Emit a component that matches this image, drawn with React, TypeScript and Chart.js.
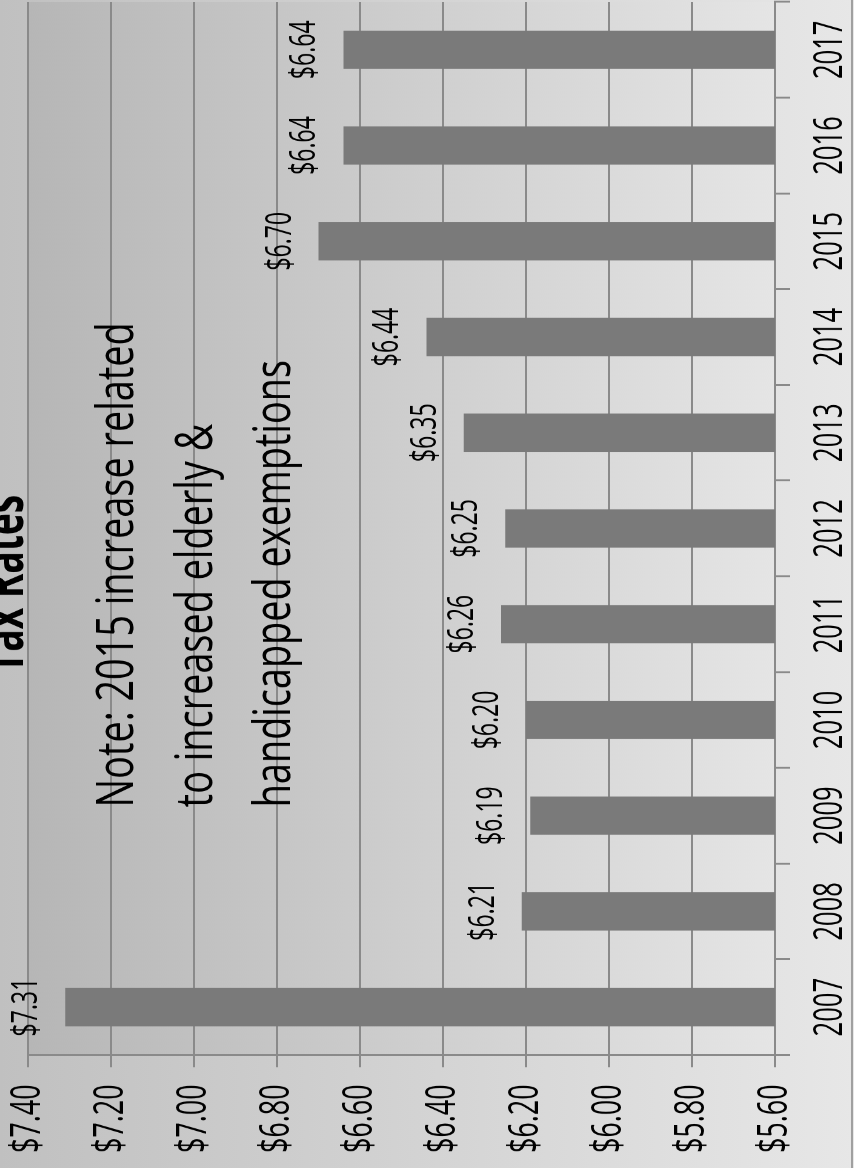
import React, { useEffect, useRef } from "react";
import { Chart, registerables } from "chart.js";

Chart.register(...registerables);

// ---- data ----
const years = ["2007", "2008", "2009", "2010", "2011", "2012", "2013", "2014", "2015", "2016", "2017"];
const taxRates = [7.31, 6.21, 6.19, 6.2, 6.26, 6.25, 6.35, 6.44, 6.7, 6.64, 6.64];
const valueTicks = [5.6, 5.8, 6.0, 6.2, 6.4, 6.6, 6.8, 7.0, 7.2, 7.4];
const titleText = "Tax Rates";
const noteLines = ["Note: 2015 increase related", "to increased elderly &", "handicapped exemptions"];

// ---- layout (the chart is drawn upright, then turned a quarter turn) ----
const K = 0.64; // horizontal squeeze of the upright chart
const VIEW_W = 854;
const VIEW_H = 1168;
const TOP_CROP = 40;
const CW = Math.round(VIEW_H / K);
const CH = VIEW_W + TOP_CROP;
const FONT = "'Open Sans', Lato, sans-serif";
const NOTE_WIDTH = 485 / K;

const money = (v: number) => "$" + Number(v).toFixed(2);

const decorPlugin = {
  id: "decor",
  beforeDraw(chart: any) {
    const { ctx, chartArea } = chart;
    ctx.save();
    const g = ctx.createLinearGradient(0, chartArea.top, 0, chartArea.bottom);
    g.addColorStop(0, "#b6b6b6");
    g.addColorStop(1, "#e5e5e5");
    ctx.fillStyle = g;
    ctx.fillRect(chartArea.left, chartArea.top, chartArea.right - chartArea.left, chartArea.bottom - chartArea.top);
    ctx.restore();
  },
  afterDatasetsDraw(chart: any) {
    const { ctx, chartArea } = chart;
    const meta = chart.getDatasetMeta(0);
    ctx.save();
    ctx.fillStyle = "#000";
    ctx.textAlign = "center";
    ctx.textBaseline = "alphabetic";
    ctx.font = `36px ${FONT}`;
    meta.data.forEach((bar: any, i: number) => {
      ctx.fillText(money(taxRates[i]), bar.x, bar.y - 28);
    });
    // note
    ctx.textAlign = "left";
    ctx.font = `52px ${FONT}`;
    const sx = NOTE_WIDTH / ctx.measureText(noteLines[0]).width;
    const noteLeft = chartArea.left + 387;
    const baseOffsets = [105, 184, 262];
    noteLines.forEach((line, i) => {
      ctx.save();
      ctx.translate(noteLeft, chartArea.top + baseOffsets[i]);
      ctx.scale(sx, 1);
      ctx.fillText(line, 0, 0);
      ctx.restore();
    });
    // title (mostly cropped, as in the source)
    ctx.textAlign = "center";
    ctx.font = `bold 58px ${FONT}`;
    ctx.fillText(titleText, chart.width / 2, chartArea.top - 5);
    ctx.restore();
  },
};

export default function App() {
  const ref = useRef<HTMLCanvasElement | null>(null);
  useEffect(() => {
    if (!ref.current) return;
    const chart = new Chart(ref.current, {
      type: "bar",
      data: {
        labels: years,
        datasets: [
          {
            data: taxRates,
            backgroundColor: "#7a7a7a",
            barPercentage: 0.4,
            categoryPercentage: 1.0,
          },
        ],
      },
      options: {
        responsive: false,
        animation: false,
        devicePixelRatio: 1,
        layout: { padding: { top: TOP_CROP + 28, right: 3, left: 0, bottom: 0 } },
        plugins: { legend: { display: false }, tooltip: { enabled: false }, title: { display: false } },
        scales: {
          x: {
            offset: true,
            grid: {
              offset: true,
              drawOnChartArea: false,
              drawTicks: true,
              tickLength: 15,
              lineWidth: 3,
              color: "#8a8a8a",
            },
            border: { display: true, color: "#8a8a8a", width: 2 },
            ticks: {
              color: "#000",
              font: { family: FONT, size: 40 },
              padding: 17,
              maxRotation: 0,
              minRotation: 0,
              autoSkip: false,
            },
            afterFit: (s: any) => {
              s.height = 79;
            },
          },
          y: {
            min: 5.6,
            max: 7.4,
            afterBuildTicks: (s: any) => {
              s.ticks = valueTicks.map((v) => ({ value: v }));
            },
            grid: { color: "#8a8a8a", lineWidth: 2, tickLength: 19, drawTicks: true },
            border: { display: true, color: "#8a8a8a", width: 3 },
            ticks: {
              color: "#000",
              font: { family: FONT, size: 42 },
              padding: 27,
              callback: (v: any) => money(Number(v)),
            },
            afterFit: (s: any) => {
              s.width = 113 / K;
            },
          },
        },
      },
      plugins: [decorPlugin],
    });
    return () => chart.destroy();
  }, []);

  return (
    <div
      style={{
        position: "fixed",
        left: 0,
        top: 0,
        width: VIEW_W,
        height: VIEW_H,
        overflow: "hidden",
        background: "linear-gradient(to right, #c0c0c0, #e7e7e7)",
      }}
    >
      <canvas
        ref={ref}
        width={CW}
        height={CH}
        style={{
          position: "absolute",
          left: 0,
          top: 0,
          width: CW,
          height: CH,
          transformOrigin: "0 0",
          transform: `matrix(0, ${-K}, 1, 0, ${-TOP_CROP}, ${VIEW_H})`,
        }}
      />
      <div style={{ position: "absolute", left: VIEW_W - 3, top: 0, width: 2, height: VIEW_H, background: "#a0a0a0" }} />
    </div>
  );
}
